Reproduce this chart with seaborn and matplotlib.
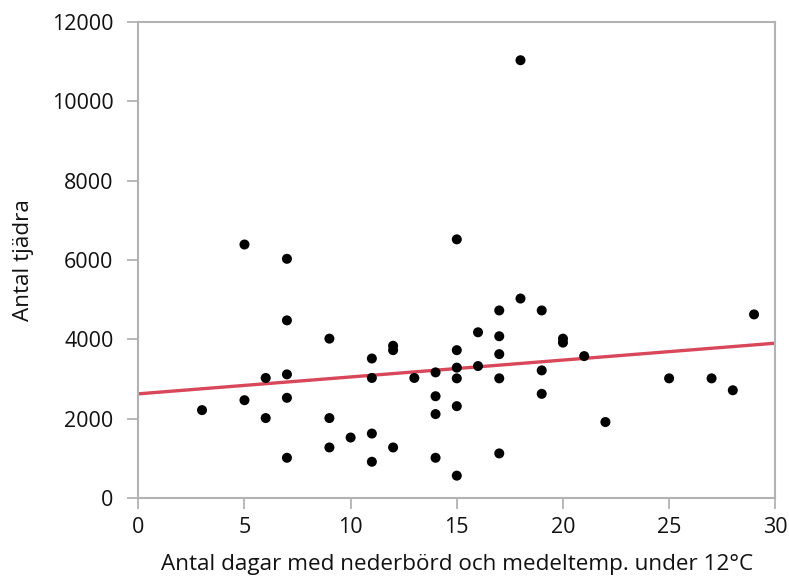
import matplotlib
matplotlib.use("Agg")
import matplotlib.pyplot as plt
import seaborn as sns
import pandas as pd

# Days with precipitation and mean temperature below 12 °C, and capercaillie counts
dagar = [3, 5, 5, 6, 6, 7, 7, 7, 7, 7, 9, 9, 9, 10, 11, 11, 11, 11, 12, 12, 12,
         13, 14, 14, 14, 14, 15, 15, 15, 15, 15, 15, 16, 16, 17, 17, 17, 17, 17,
         18, 18, 19, 19, 19, 20, 20, 21, 22, 25, 27, 28, 29]
tjadrar = [2220, 6390, 2470, 3030, 2020, 6030, 4480, 3120, 2530, 1020, 4020, 2020,
           1280, 1530, 3520, 3030, 1630, 920, 3840, 3730, 1280, 3030, 3170, 2570,
           2120, 1020, 6520, 3730, 3290, 3020, 2320, 570, 4180, 3330, 4730, 4080,
           3630, 3020, 1130, 11030, 5030, 4730, 3220, 2630, 4020, 3920, 3580, 1920,
           3020, 3020, 2720, 4630]

# Linear trend line endpoints
trend_x = [0, 30]
trend_y = [2630, 3905]

x_ticks = [0, 5, 10, 15, 20, 25, 30]
y_ticks = [0, 2000, 4000, 6000, 8000, 10000, 12000]

df = pd.DataFrame({"dagar": dagar, "tjadrar": tjadrar})
trend = pd.DataFrame({"x": trend_x, "y": trend_y})

sns.set_style("white")
plt.rcParams["font.family"] = ["Open Sans", "DejaVu Sans"]

fig = plt.figure(figsize=(7.89, 5.79), dpi=100)
ax = fig.add_axes([0.1753, 0.1394, 0.8073, 0.8231])

sns.lineplot(data=trend, x="x", y="y", ax=ax, color="#d9485a", linewidth=2.4, zorder=2)
sns.scatterplot(data=df, x="dagar", y="tjadrar", ax=ax, color="black", s=52,
                edgecolor="none", zorder=3)

ax.set_xlim(0, 30)
ax.set_ylim(0, 12000)
ax.set_xticks(x_ticks)
ax.set_yticks(y_ticks)
ax.set_xticklabels([str(v) for v in x_ticks])
ax.set_yticklabels([str(v) for v in y_ticks])

for side in ["left", "right", "top", "bottom"]:
    ax.spines[side].set_visible(True)
    ax.spines[side].set_color("#b3b3b3")
    ax.spines[side].set_linewidth(1.5)

ax.tick_params(axis="both", which="major", direction="out", length=7.8, width=1.3,
               color="#b3b3b3", labelsize=15.5, labelcolor="#111111")
ax.tick_params(axis="x", bottom=True, pad=6)
ax.tick_params(axis="y", left=True, pad=10)

ax.set_xlabel("Antal dagar med nederbörd och medeltemp. under 12°C", fontsize=16.2,
              color="#111111", labelpad=11)
ax.set_ylabel("Antal tjädra", fontsize=16.2, color="#111111", labelpad=13)

fig.savefig("out.png", dpi=100)
